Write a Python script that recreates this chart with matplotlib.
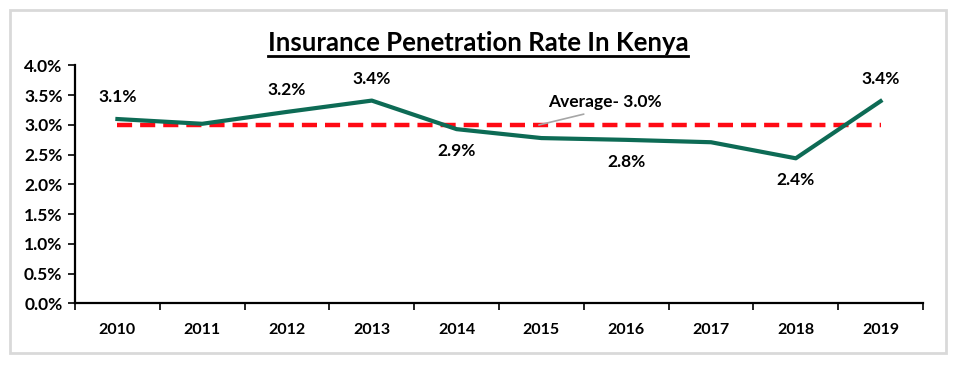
import matplotlib

matplotlib.use("Agg")
import matplotlib.pyplot as plt
from matplotlib.patches import Rectangle
from matplotlib.ticker import FixedLocator, FuncFormatter

YEARS = ["2010", "2011", "2012", "2013", "2014", "2015", "2016", "2017", "2018", "2019"]
PENETRATION = [3.10, 3.02, 3.22, 3.41, 2.93, 2.78, 2.75, 2.71, 2.44, 3.40]
POINT_LABELS = ["3.1%", "", "3.2%", "3.4%", "2.9%", "", "2.8%", "", "2.4%", "3.4%"]
LABEL_ABOVE = [True, True, True, True, False, False, False, False, False, True]
AVERAGE = 3.0
AVERAGE_LABEL = "Average- 3.0%"

GREEN = "#0D6B55"
RED = "#FF0A14"
FONT = "Lato"

plt.rcParams["font.family"] = [FONT, "DejaVu Sans"]

fig = plt.figure(figsize=(9.54, 3.66), dpi=100)
fig.patches.append(Rectangle((10 / 954, 13 / 366), 936 / 954, 343 / 366, transform=fig.transFigure,
                             fill=False, edgecolor="#D9D9D9", linewidth=2))

ax = fig.add_axes([75 / 954, 0.1708, 848 / 954, 0.6503])
x = list(range(len(YEARS)))

ax.plot([x[0], x[-1]], [AVERAGE, AVERAGE], color=RED, linewidth=3.2, dashes=(3.4, 1.8), zorder=2)
ax.plot(x, PENETRATION, color=GREEN, linewidth=3, solid_joinstyle="round", zorder=3)

for xi, val, text, above in zip(x, PENETRATION, POINT_LABELS, LABEL_ABOVE):
    if not text:
        continue
    offset = 22 if above else -22
    ax.annotate(text, (xi, val), xytext=(0, offset), textcoords="offset pixels",
                ha="center", va="center", fontsize=12.5, fontweight="bold")

ax.annotate(AVERAGE_LABEL, xy=(4.97, AVERAGE), xytext=(5.75, 3.38), ha="center", va="center",
            fontsize=12.5, fontweight="bold",
            arrowprops=dict(arrowstyle="-", color="#A6A6A6", linewidth=1.2, shrinkA=3, shrinkB=0,
                            relpos=(0.45, 0.0)))

ax.set_xlim(-0.5, len(YEARS) - 0.5)
ax.set_ylim(0, 4.0)
ax.set_xticks(x, YEARS)
ax.xaxis.set_minor_locator(FixedLocator([i - 0.5 for i in range(len(YEARS) + 1)]))
ax.tick_params(axis="x", which="major", length=0, pad=14, labelsize=11.5)
ax.tick_params(axis="x", which="minor", length=5, width=1.2, direction="out")
ax.set_yticks([i * 0.5 for i in range(9)])
ax.yaxis.set_major_formatter(FuncFormatter(lambda v, _: f"{v:.1f}%"))
ax.tick_params(axis="y", length=5, width=1.2, pad=4, labelsize=12.5)
for lab in ax.get_xticklabels() + ax.get_yticklabels():
    lab.set_fontweight("bold")

for side in ("top", "right"):
    ax.spines[side].set_visible(False)
for side in ("left", "bottom"):
    ax.spines[side].set_linewidth(1.6)

title = fig.text(478 / 954, 1 - 43 / 366, "Insurance Penetration Rate In Kenya", ha="center", va="center",
                 fontsize=18.5, fontweight="bold")
fig.canvas.draw()
bb = title.get_window_extent()
fig.add_artist(plt.Line2D([bb.x0 / 954, bb.x1 / 954], [(bb.y0 - 1) / 366, (bb.y0 - 1) / 366],
                          color="black", linewidth=2, transform=fig.transFigure))

fig.savefig("out.png", dpi=100)
